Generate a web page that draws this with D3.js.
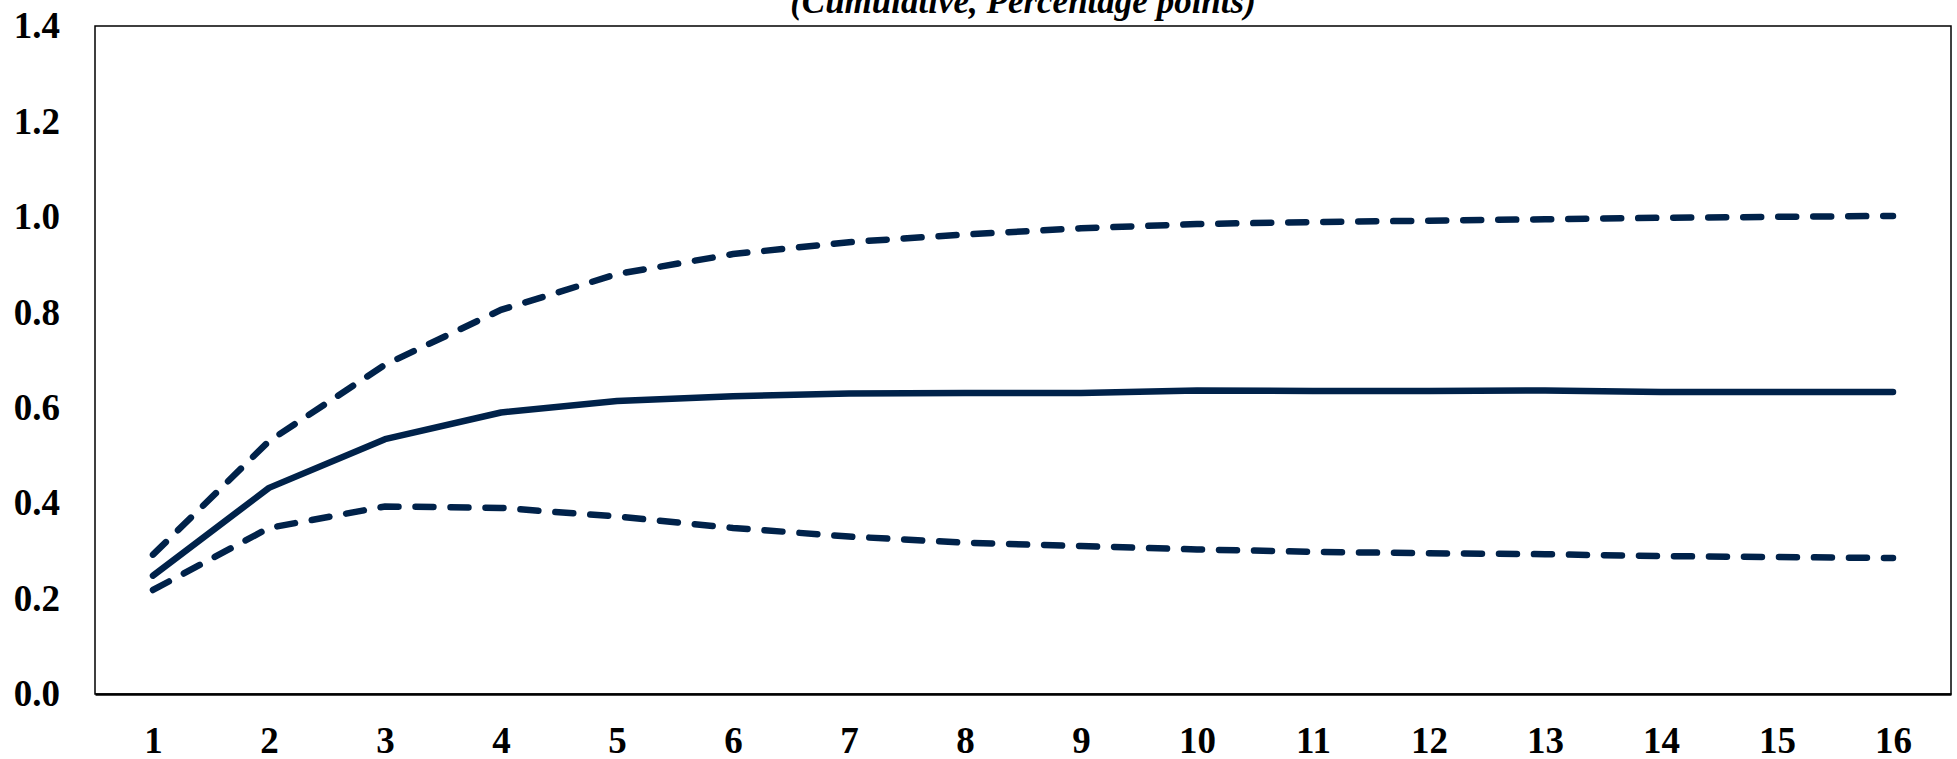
<!DOCTYPE html>
<html>
<head>
<meta charset="utf-8">
<script src="https://cdn.jsdelivr.net/npm/d3@7"></script>
<style>
  body { margin: 0; background: #fff; }
  text { font-family: "Liberation Serif", "Times New Roman", serif; font-weight: bold; }
</style>
</head>
<body>
<div id="vis1"></div>
<script>

// chart data
const QUARTERS = [1, 2, 3, 4, 5, 6, 7, 8, 9, 10, 11, 12, 13, 14, 15, 16];
const MEDIAN = [0.248, 0.432, 0.534, 0.590, 0.614, 0.624, 0.630, 0.631, 0.631, 0.636, 0.635, 0.635, 0.636, 0.633, 0.633, 0.633];
const UPPER  = [0.292, 0.530, 0.690, 0.805, 0.880, 0.922, 0.947, 0.963, 0.976, 0.985, 0.989, 0.992, 0.995, 0.998, 1.000, 1.002];
const LOWER  = [0.218, 0.348, 0.393, 0.390, 0.372, 0.348, 0.330, 0.317, 0.310, 0.303, 0.298, 0.295, 0.293, 0.289, 0.287, 0.285];
const Y_TICKS = [0.0, 0.2, 0.4, 0.6, 0.8, 1.0, 1.2, 1.4];
const TITLE = "(Cumulative, Percentage points)";

const FRAME_WIDTH = 1957;
const FRAME_HEIGHT = 759;
const MARGINS = {left: 95, right: 6, top: 26, bottom: 65};
const LINE_COLOR = "#00224a";

const FRAME1 = d3.select("#vis1")
                  .append("svg")
                    .attr("width", FRAME_WIDTH)
                    .attr("height", FRAME_HEIGHT);

const X_SCALE = d3.scalePoint()
                  .domain(QUARTERS)
                  .range([MARGINS.left, FRAME_WIDTH - MARGINS.right])
                  .padding(0.5);

const Y_SCALE = d3.scaleLinear()
                  .domain([0, 1.4])
                  .range([FRAME_HEIGHT - MARGINS.bottom, MARGINS.top]);

// plot box
FRAME1.append("rect")
      .attr("x", MARGINS.left)
      .attr("y", MARGINS.top)
      .attr("width", FRAME_WIDTH - MARGINS.left - MARGINS.right)
      .attr("height", FRAME_HEIGHT - MARGINS.top - MARGINS.bottom)
      .attr("fill", "none")
      .attr("stroke", "#000")
      .attr("stroke-width", 1.5);

// title, partly cut at the top like the original
FRAME1.append("text")
      .attr("x", (MARGINS.left + FRAME_WIDTH - MARGINS.right) / 2)
      .attr("y", 13)
      .attr("text-anchor", "middle")
      .attr("font-size", "35px")
      .attr("font-style", "italic")
      .text(TITLE);

// y axis labels
const yAxis = FRAME1.append("g")
      .attr("transform", "translate(" + MARGINS.left + ",0)")
      .call(d3.axisLeft(Y_SCALE).tickValues(Y_TICKS).tickFormat(d3.format(".1f"))
              .tickSize(0).tickPadding(35));
yAxis.select(".domain").remove();
yAxis.selectAll("text")
      .attr("font-size", "37px")
      .attr("fill", "#000");

// x axis
const xAxis = FRAME1.append("g")
      .attr("transform", "translate(0," + (FRAME_HEIGHT - MARGINS.bottom) + ")")
      .call(d3.axisBottom(X_SCALE).tickSize(0).tickPadding(33));
xAxis.select(".domain")
      .attr("stroke", "#000")
      .attr("stroke-width", 2.5);
xAxis.selectAll("text")
      .attr("font-size", "37px")
      .attr("fill", "#000");

const line = d3.line()
               .x((d, i) => { return X_SCALE(QUARTERS[i]); })
               .y((d) => { return Y_SCALE(d); });

// confidence bands, dashed
[UPPER, LOWER].forEach((band) => {
  FRAME1.append("path")
        .datum(band)
        .attr("d", line)
        .attr("fill", "none")
        .attr("stroke", LINE_COLOR)
        .attr("stroke-width", 6.5)
        .attr("stroke-linecap", "round")
        .attr("stroke-dasharray", "18,17");
});

// point estimate
FRAME1.append("path")
      .datum(MEDIAN)
      .attr("d", line)
      .attr("fill", "none")
      .attr("stroke", LINE_COLOR)
      .attr("stroke-width", 6.5)
      .attr("stroke-linecap", "round")
      .attr("stroke-linejoin", "round");

</script>
</body>
</html>
